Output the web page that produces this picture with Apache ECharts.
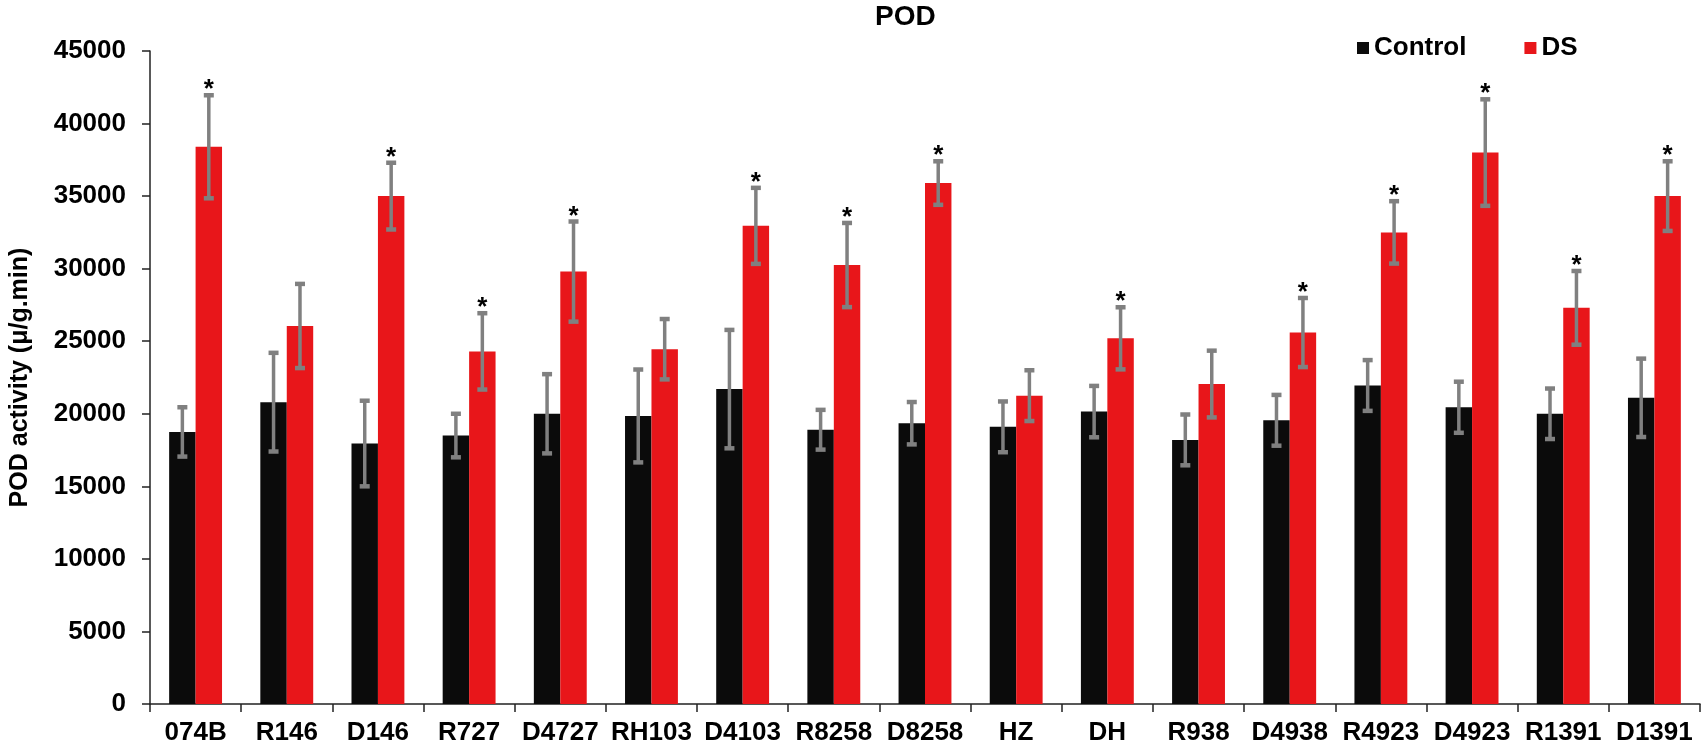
<!DOCTYPE html>
<html>
<head>
<meta charset="utf-8">
<script src="https://cdn.jsdelivr.net/npm/echarts@6/dist/echarts.min.js"></script>
<style>
html,body{margin:0;padding:0;background:#fff;}
#chart{width:1702px;height:746px;}
</style>
</head>
<body>
<div id="chart"></div>
<script>
const categories = ['074B','R146','D146','R727','D4727','RH103','D4103','R8258','D8258','HZ','DH','R938','D4938','R4923','D4923','R1391','D1391'];
const controlValues = [18750,20800,17950,18500,20000,19850,21700,18900,19350,19100,20150,18200,19550,21950,20450,20000,21100];
const controlErrors = [1700,3400,2950,1500,2730,3200,4080,1370,1460,1750,1770,1750,1750,1750,1760,1740,2700];
const dsValues = [38400,26050,35000,24300,29800,24450,32950,30250,35900,21250,25200,22050,25600,32500,38000,27300,35000];
const dsErrors = [3550,2900,2300,2630,3450,2080,2620,2900,1500,1750,2140,2300,2380,2150,3670,2540,2400];
const dsSignificant = [1,0,1,1,1,0,1,1,1,0,1,0,1,1,1,1,1];
const yTicks = [0,5000,10000,15000,20000,25000,30000,35000,40000,45000];

const FONT = '"Liberation Sans", Arial, sans-serif';
const BAR_FRAC = 0.29;
const ERR_COLOR = '#808080';

function errData(vals, errs, sig) {
  return vals.map((v, i) => [i, v, errs[i], sig ? sig[i] : 0]);
}

function makeErrRender(side) {
  return function (params, api) {
    const idx = api.value(0);
    const v = api.value(1);
    const e = api.value(2);
    const star = api.value(3);
    const center = api.coord([idx, v]);
    const catW = api.size([1, 0])[0];
    const x = center[0] + side * catW * BAR_FRAC / 2;
    const top = api.coord([idx, v + e])[1];
    const bot = api.coord([idx, v - e])[1];
    const capW = 10;
    const children = [
      { type: 'line', shape: { x1: x, y1: top, x2: x, y2: bot }, style: { stroke: ERR_COLOR, lineWidth: 3.5 } },
      { type: 'line', shape: { x1: x - capW / 2, y1: top, x2: x + capW / 2, y2: top }, style: { stroke: ERR_COLOR, lineWidth: 4.5 } },
      { type: 'line', shape: { x1: x - capW / 2, y1: bot, x2: x + capW / 2, y2: bot }, style: { stroke: ERR_COLOR, lineWidth: 4.5 } }
    ];
    if (star) {
      children.push({
        type: 'text',
        style: { text: '*', x: x, y: top - 5, textAlign: 'center', textVerticalAlign: 'middle', fill: '#000', font: 'bold 26px ' + FONT }
      });
    }
    return { type: 'group', children: children };
  };
}

const chart = echarts.init(document.getElementById('chart'), null, { renderer: 'canvas' });
chart.setOption({
  backgroundColor: '#fff',
  animation: false,
  title: {
    text: 'POD', left: 870, top: -2,
    textStyle: { fontFamily: FONT, fontWeight: 'bold', fontSize: 28, color: '#000' }
  },
  legend: {
    data: ['Control', 'DS'],
    left: 1352, top: 30,
    itemWidth: 12, itemHeight: 12, itemGap: 58,
    icon: 'rect',
    textStyle: { fontFamily: FONT, fontWeight: 'bold', fontSize: 26, color: '#000' }
  },
  grid: { left: 127, right: 2, top: 51, bottom: 41, containLabel: false },
  xAxis: {
    type: 'category',
    data: categories,
    boundaryGap: true,
    axisLine: { lineStyle: { color: '#222', width: 1.5 } },
    axisTick: { show: true, alignWithLabel: false, length: 8, lineStyle: { color: '#222', width: 1.5 } },
    axisLabel: { fontFamily: FONT, fontWeight: 'bold', fontSize: 26, color: '#000', margin: 16, interval: 0 }
  },
  yAxis: {
    type: 'value',
    min: 0, max: 45000, interval: 5000,
    name: 'POD activity (μ/g.min)',
    nameLocation: 'middle',
    nameGap: 117,
    nameTextStyle: { fontFamily: FONT, fontWeight: 'bold', fontSize: 25, color: '#000' },
    axisLine: { show: true, lineStyle: { color: '#222', width: 1.5 } },
    axisTick: { show: true, length: 8, lineStyle: { color: '#222', width: 1.5 } },
    splitLine: { show: false },
    axisLabel: {
      fontFamily: FONT, fontWeight: 'bold', fontSize: 26, color: '#000', margin: 24,
      formatter: function (v) { return yTicks.indexOf(v) >= 0 ? String(v) : ''; }
    }
  },
  series: [
    {
      name: 'Control', type: 'bar', data: controlValues,
      barWidth: (BAR_FRAC * 100) + '%', barGap: '0%',
      itemStyle: { color: '#0b0b0b' }
    },
    {
      name: 'DS', type: 'bar', data: dsValues,
      barWidth: (BAR_FRAC * 100) + '%', barGap: '0%',
      itemStyle: { color: '#e8161a' }
    },
    {
      name: 'ControlErr', type: 'custom', renderItem: makeErrRender(-1),
      data: errData(controlValues, controlErrors), z: 5, silent: true
    },
    {
      name: 'DSErr', type: 'custom', renderItem: makeErrRender(1),
      data: errData(dsValues, dsErrors, dsSignificant), z: 5, silent: true
    }
  ]
});
</script>
</body>
</html>
